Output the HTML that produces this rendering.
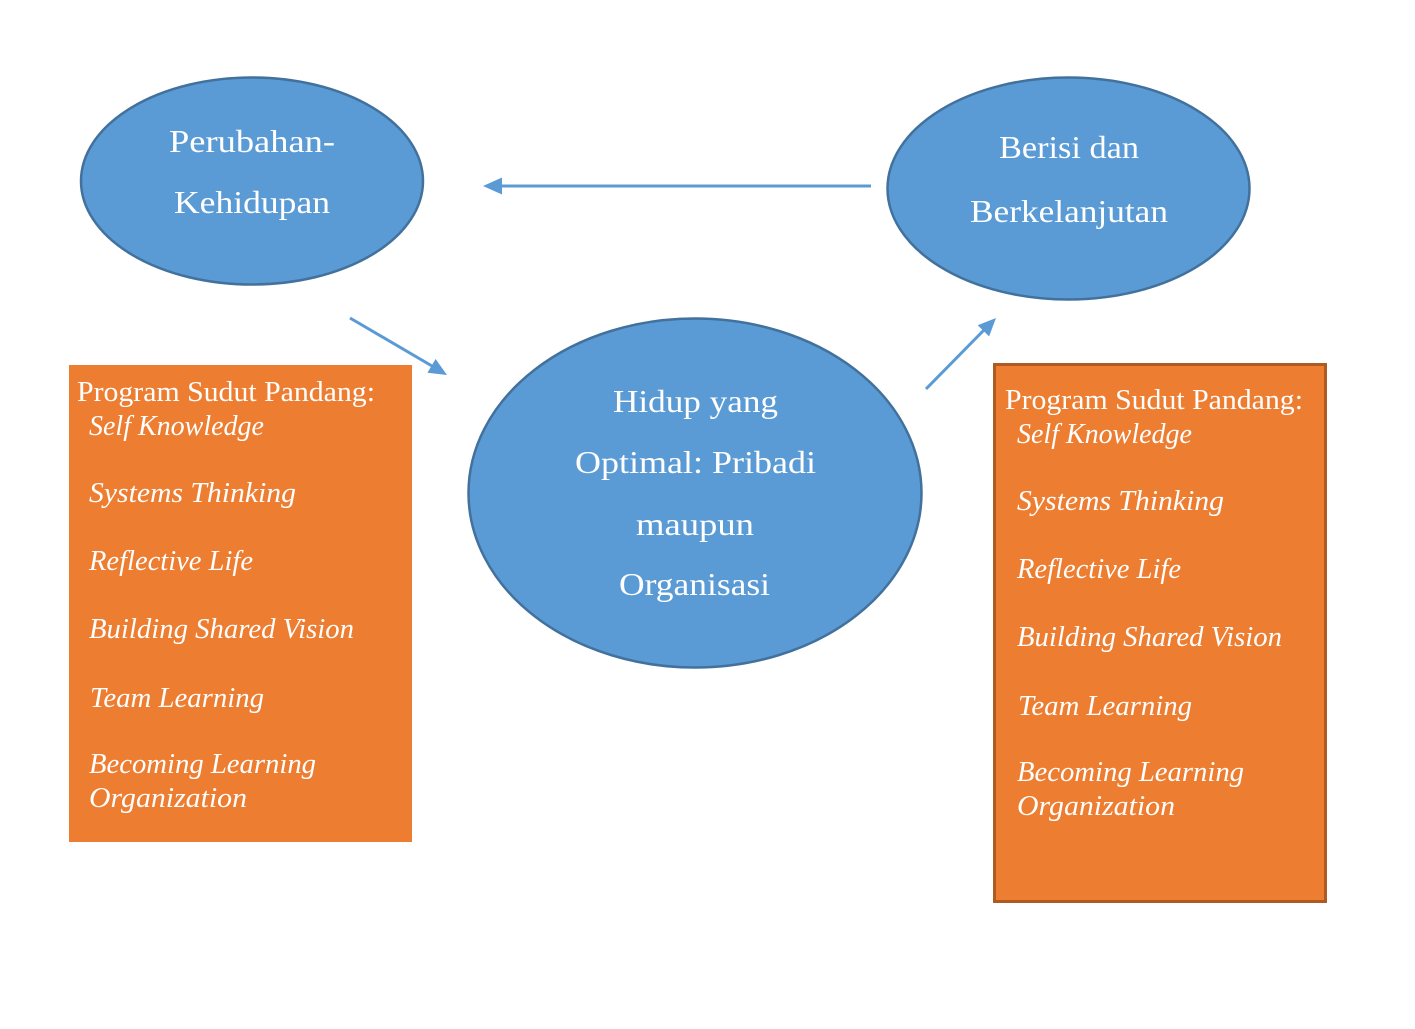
<!DOCTYPE html>
<html>
<head>
<meta charset="utf-8">
<style>
  html, body { margin: 0; padding: 0; background: #ffffff; }
  svg { display: block; }
  .t { font-family: "Liberation Serif", "DejaVu Serif", serif; fill: #ffffff; }
  .e { font-size: 32px; }
  .h { font-size: 28px; }
  .i { font-size: 28px; font-style: italic; }
</style>
</head>
<body>
<svg width="1415" height="1029" viewBox="0 0 1415 1029" xmlns="http://www.w3.org/2000/svg">
  <rect x="0" y="0" width="1415" height="1029" fill="#ffffff"/>

  <!-- Ellipses -->
  <ellipse cx="252" cy="181" rx="171" ry="103.5" fill="#5b9bd5" stroke="#41719c" stroke-width="2.5"/>
  <ellipse cx="1068.5" cy="188.5" rx="181" ry="111" fill="#5b9bd5" stroke="#41719c" stroke-width="2.5"/>
  <ellipse cx="695" cy="493" rx="226.5" ry="174.5" fill="#5b9bd5" stroke="#41719c" stroke-width="2.5"/>

  <!-- Arrows -->
  <line x1="871" y1="186" x2="499" y2="186" stroke="#5b9bd5" stroke-width="3"/>
  <polygon points="483,186 502,177.5 502,194.5" fill="#5b9bd5"/>

  <line x1="350" y1="318" x2="432" y2="366" stroke="#5b9bd5" stroke-width="3"/>
  <polygon points="447,375 427.4,372.8 435.6,359" fill="#5b9bd5"/>

  <line x1="926" y1="389" x2="984" y2="330" stroke="#5b9bd5" stroke-width="3"/>
  <polygon points="996,318 989.1,336.4 977.7,325.2" fill="#5b9bd5"/>

  <!-- Boxes -->
  <rect x="69" y="365" width="343" height="477" fill="#ed7d31"/>
  <rect x="994.5" y="364.5" width="331" height="537" fill="#ed7d31" stroke="#ae5a21" stroke-width="3"/>

  <!-- Ellipse text -->
  <text class="t e" x="169" y="152" textLength="166" lengthAdjust="spacingAndGlyphs">Perubahan-</text>
  <text class="t e" x="174" y="213" textLength="156" lengthAdjust="spacingAndGlyphs">Kehidupan</text>

  <text class="t e" x="999" y="158" textLength="140" lengthAdjust="spacingAndGlyphs">Berisi dan</text>
  <text class="t e" x="970" y="222" textLength="198" lengthAdjust="spacingAndGlyphs">Berkelanjutan</text>

  <text class="t e" x="613" y="412" textLength="165" lengthAdjust="spacingAndGlyphs">Hidup yang</text>
  <text class="t e" x="575" y="473" textLength="241" lengthAdjust="spacingAndGlyphs">Optimal: Pribadi</text>
  <text class="t e" x="636" y="535" textLength="118" lengthAdjust="spacingAndGlyphs">maupun</text>
  <text class="t e" x="619" y="595" textLength="151" lengthAdjust="spacingAndGlyphs">Organisasi</text>

  <!-- Left box text -->
  <text class="t h" x="77" y="401" textLength="298" lengthAdjust="spacingAndGlyphs">Program Sudut Pandang:</text>
  <text class="t i" x="89" y="435" textLength="175" lengthAdjust="spacingAndGlyphs">Self Knowledge</text>
  <text class="t i" x="89" y="502" textLength="207" lengthAdjust="spacingAndGlyphs">Systems Thinking</text>
  <text class="t i" x="89" y="570" textLength="164" lengthAdjust="spacingAndGlyphs">Reflective Life</text>
  <text class="t i" x="89" y="638" textLength="265" lengthAdjust="spacingAndGlyphs">Building Shared Vision</text>
  <text class="t i" x="90" y="707" textLength="174" lengthAdjust="spacingAndGlyphs">Team Learning</text>
  <text class="t i" x="89" y="773" textLength="227" lengthAdjust="spacingAndGlyphs">Becoming Learning</text>
  <text class="t i" x="89" y="807" textLength="158" lengthAdjust="spacingAndGlyphs">Organization</text>

  <!-- Right box text -->
  <text class="t h" x="1005" y="409" textLength="298" lengthAdjust="spacingAndGlyphs">Program Sudut Pandang:</text>
  <text class="t i" x="1017" y="443" textLength="175" lengthAdjust="spacingAndGlyphs">Self Knowledge</text>
  <text class="t i" x="1017" y="510" textLength="207" lengthAdjust="spacingAndGlyphs">Systems Thinking</text>
  <text class="t i" x="1017" y="578" textLength="164" lengthAdjust="spacingAndGlyphs">Reflective Life</text>
  <text class="t i" x="1017" y="646" textLength="265" lengthAdjust="spacingAndGlyphs">Building Shared Vision</text>
  <text class="t i" x="1018" y="715" textLength="174" lengthAdjust="spacingAndGlyphs">Team Learning</text>
  <text class="t i" x="1017" y="781" textLength="227" lengthAdjust="spacingAndGlyphs">Becoming Learning</text>
  <text class="t i" x="1017" y="815" textLength="158" lengthAdjust="spacingAndGlyphs">Organization</text>
</svg>
</body>
</html>
